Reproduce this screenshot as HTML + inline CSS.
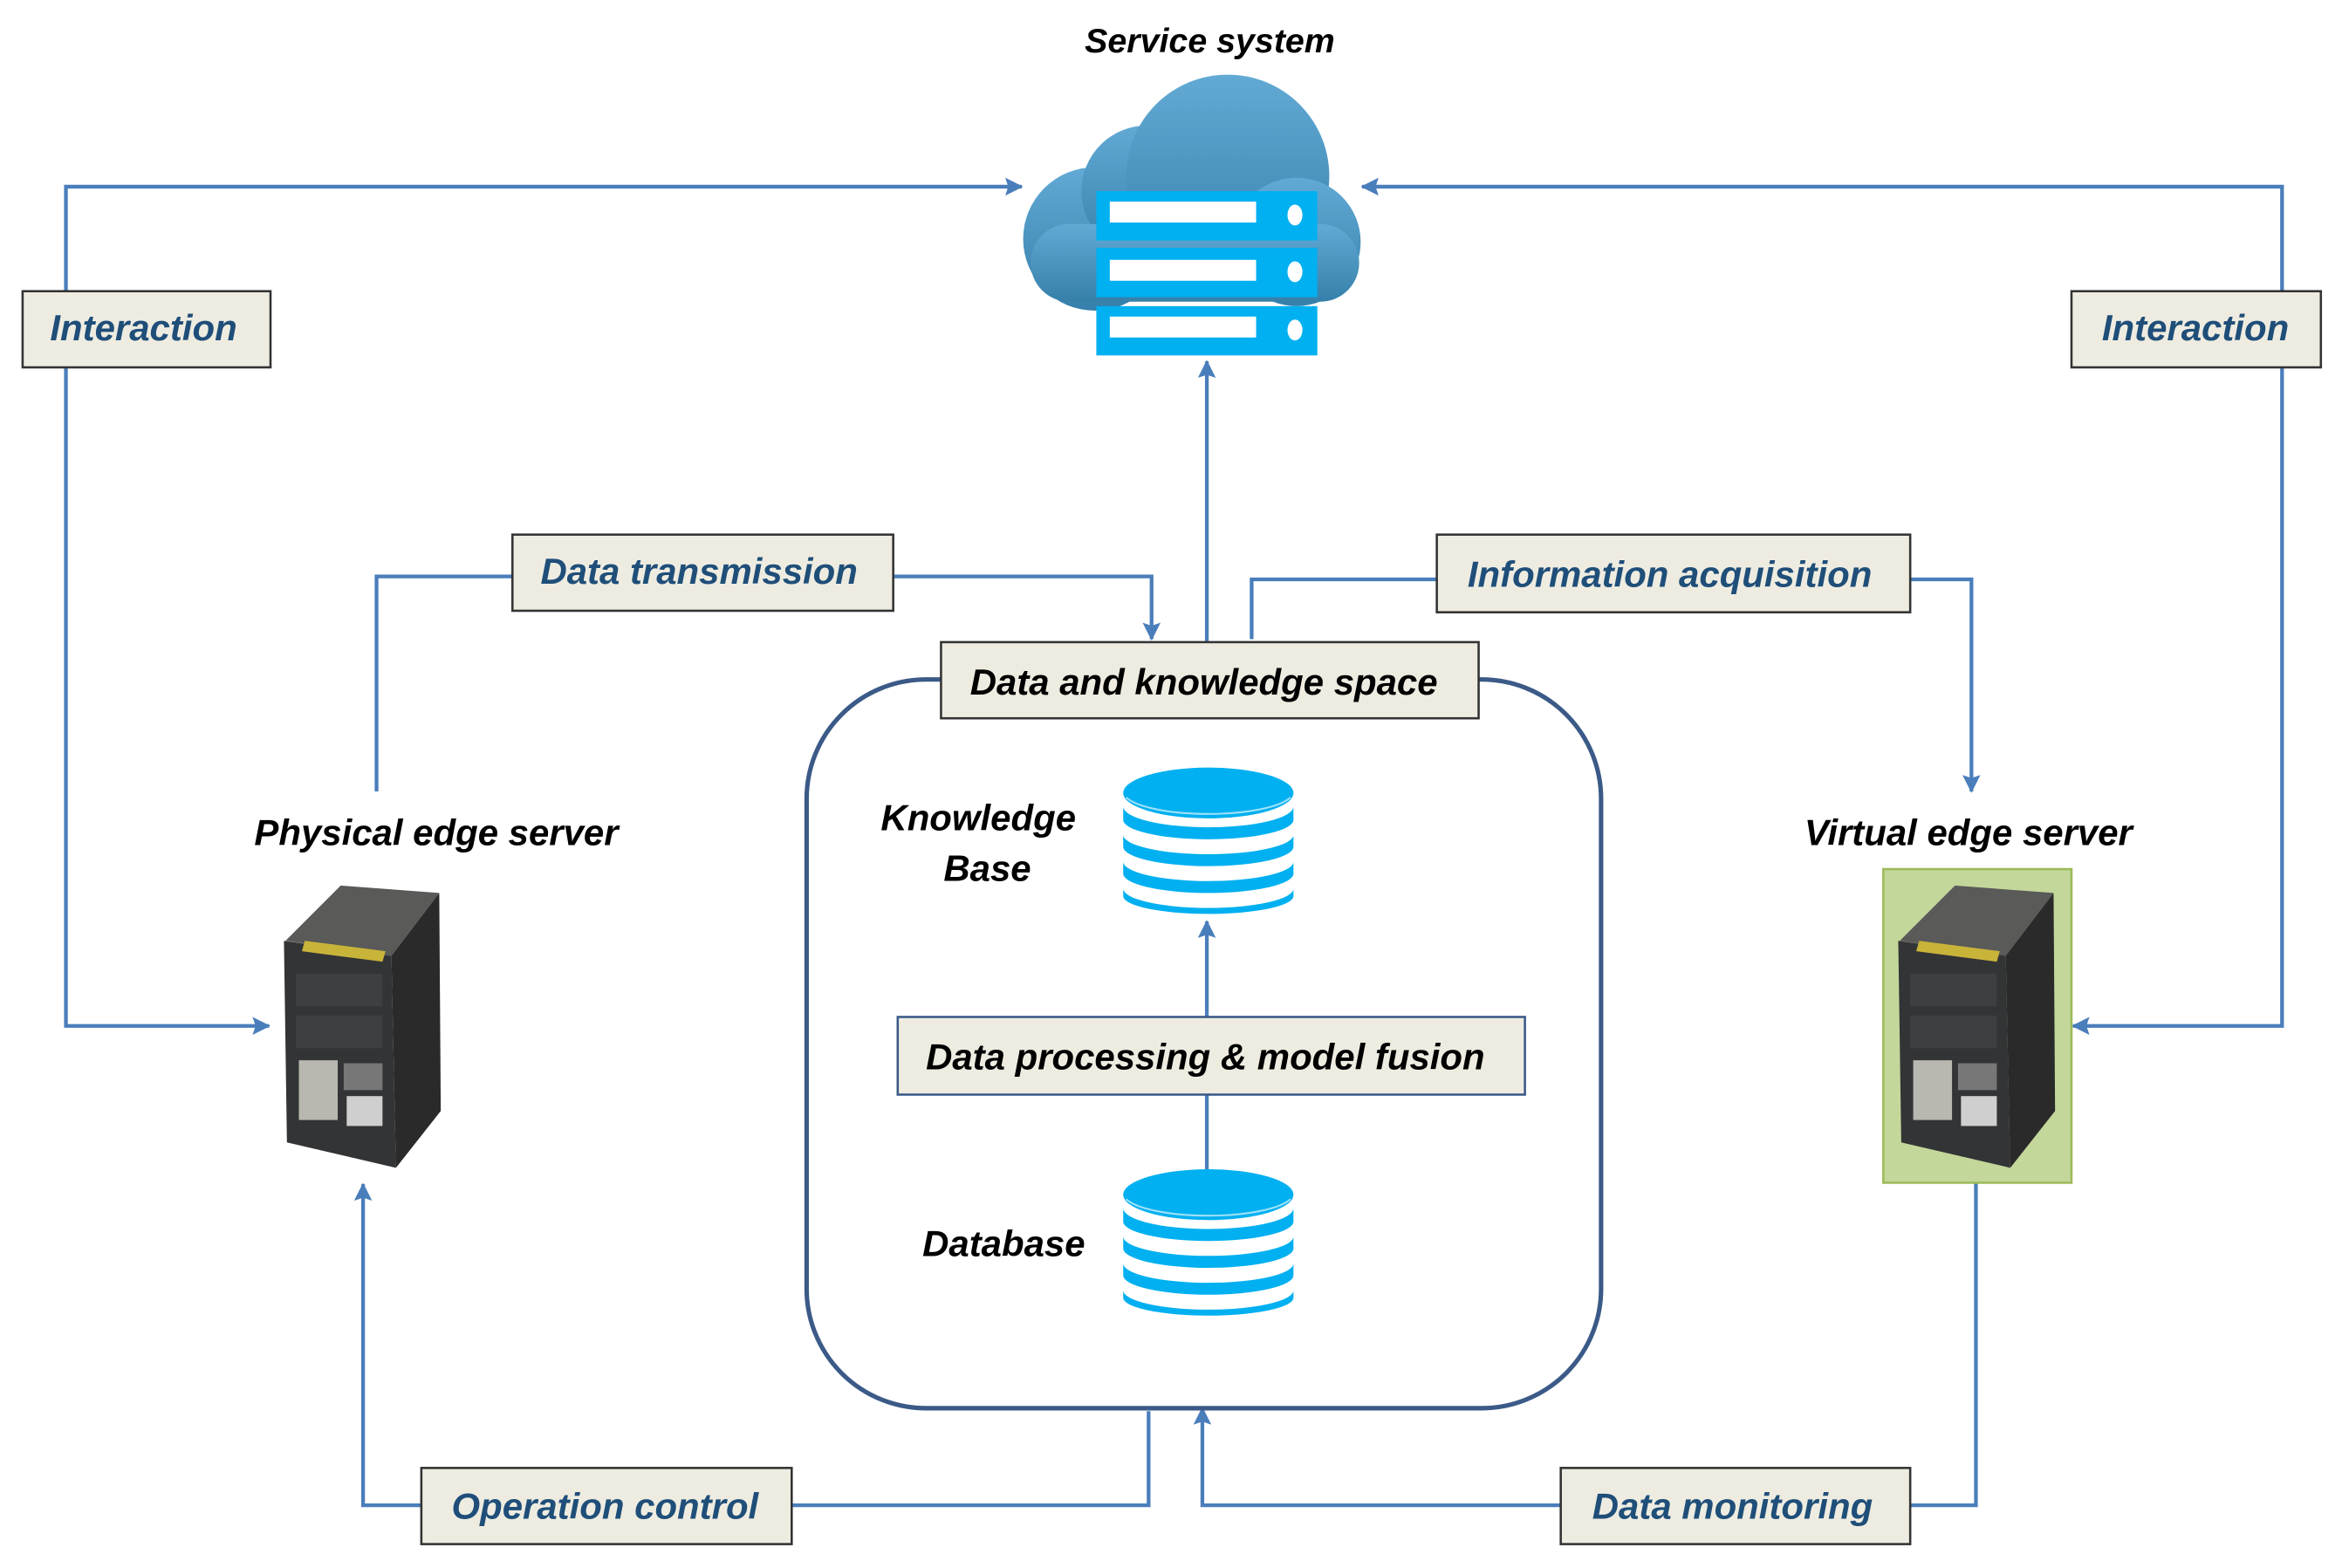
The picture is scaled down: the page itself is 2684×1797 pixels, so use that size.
<!DOCTYPE html>
<html><head><meta charset="utf-8"><style>
html,body{margin:0;padding:0;background:#fff;}
svg{display:block;}
text{font-family:"Liberation Sans",sans-serif;font-weight:bold;font-style:italic;}
</style></head><body>
<svg width="2684" height="1797" viewBox="0 0 1568 1050" xmlns="http://www.w3.org/2000/svg">
<defs>
<marker id="ah" markerWidth="12" markerHeight="12" refX="11" refY="6" orient="auto" markerUnits="userSpaceOnUse">
<path d="M0,0 L12,6 L0,12 L2,6 Z" fill="#4a7ebb"/></marker>
<linearGradient id="cg" x1="0" y1="0" x2="0" y2="1"><stop offset="0" stop-color="#62aad5"/><stop offset="1" stop-color="#3580aa"/></linearGradient>
<g id="srv">
<polygon points="1,38 38,1 104,6 72,48" fill="#5a5a58"/>
<polygon points="72,48 104,6 105,152 75,190" fill="#2a2a2a"/>
<polygon points="0,38 72,48 75,190 2,173" fill="#333436"/>
<polygon points="14,38 68,45 66,52 12,45" fill="#c9b43a"/>
<rect x="8" y="60" width="58" height="22" fill="#3d3f42"/>
<rect x="8" y="88" width="58" height="22" fill="#3d3f42"/>
<rect x="10" y="118" width="26" height="40" fill="#b8b8b0"/>
<rect x="40" y="120" width="26" height="18" fill="#777"/>
<rect x="42" y="142" width="24" height="20" fill="#cfcfcf"/>
</g>
<g id="db">
<path d="M0,28 A57,14 0 0 0 114,28 L114,37 A57,13 0 0 1 0,37 Z" fill="#00b0f0"/>
<path d="M0,47 A57,13 0 0 0 114,47 L114,55 A57,13 0 0 1 0,55 Z" fill="#00b0f0"/>
<path d="M0,65 A57,13 0 0 0 114,65 L114,73 A57,13 0 0 1 0,73 Z" fill="#00b0f0"/>
<path d="M0,83 A57,13 0 0 0 114,83 L114,88 A57,12 0 0 1 0,88 Z" fill="#00b0f0"/>
<ellipse cx="57" cy="19" rx="57" ry="17" fill="#00b0f0"/>
<path d="M2,22 A57,15 0 0 0 112,22" fill="none" stroke="#9ee0fa" stroke-width="1.2"/>
</g>
</defs>

<g fill="none" stroke="#4a7ebb" stroke-width="2.5">
<polyline points="44,195 44,125 684,125" marker-end="url(#ah)"/>
<polyline points="44,246 44,687 180,687" marker-end="url(#ah)"/>
<polyline points="1528,195 1528,125 912,125" marker-end="url(#ah)"/>
<polyline points="1528,246 1528,687 1388,687" marker-end="url(#ah)"/>
<line x1="808" y1="430" x2="808" y2="242" marker-end="url(#ah)"/>
<polyline points="252,530 252,386 343,386"/>
<polyline points="598,386 771,386 771,428" marker-end="url(#ah)"/>
<polyline points="838,428 838,388 962,388"/>
<polyline points="1279,388 1320,388 1320,530" marker-end="url(#ah)"/>
<line x1="808" y1="783" x2="808" y2="733"/>
<line x1="808" y1="681" x2="808" y2="617" marker-end="url(#ah)"/>
<polyline points="282,1008 243,1008 243,793" marker-end="url(#ah)"/>
<polyline points="530,1008 769,1008 769,945"/>
<polyline points="1279,1008 1323,1008 1323,792"/>
<polyline points="1045,1008 805,1008 805,943" marker-end="url(#ah)"/>
</g>

<rect x="540" y="455" width="532" height="488" rx="80" ry="80" fill="none" stroke="#3b5a87" stroke-width="3"/>

<text x="810" y="35" font-size="23" text-anchor="middle" fill="#000">Service system</text>
<g fill="url(#cg)">
<circle cx="733" cy="160" r="48"/>
<circle cx="768" cy="128" r="44"/>
<circle cx="822" cy="118" r="68"/>
<circle cx="868" cy="162" r="43"/>
<rect x="690" y="150" width="220" height="52" rx="26"/>
</g>
<g fill="#00b0f0">
<rect x="734" y="128" width="148" height="33"/>
<rect x="734" y="166" width="148" height="33"/>
<rect x="734" y="205" width="148" height="33"/>
</g>
<g fill="#fff">
<rect x="743" y="135" width="98" height="14"/><ellipse cx="867" cy="144" rx="5" ry="7"/>
<rect x="743" y="174" width="98" height="14"/><ellipse cx="867" cy="182" rx="5" ry="7"/>
<rect x="743" y="212" width="98" height="14"/><ellipse cx="867" cy="221" rx="5" ry="7"/>
</g>

<g fill="#eeece1" stroke="#333" stroke-width="1.5">
<rect x="15" y="195" width="166" height="51"/>
<rect x="1387" y="195" width="167" height="51"/>
<rect x="343" y="358" width="255" height="51"/>
<rect x="962" y="358" width="317" height="52"/>
<rect x="630" y="430" width="360" height="51"/>
<rect x="601" y="681" width="420" height="52" stroke="#3b5a87"/>
<rect x="282" y="983" width="248" height="51"/>
<rect x="1045" y="983" width="234" height="51"/>
</g>
<g font-size="24.5" text-anchor="middle">
<text x="96" y="228" fill="#1f4e79">Interaction</text>
<text x="1470" y="228" fill="#1f4e79">Interaction</text>
<text x="468" y="391" fill="#1f4e79">Data transmission</text>
<text x="1118" y="393" fill="#1f4e79">Information acquisition</text>
<text x="806" y="465" fill="#000">Data and knowledge space</text>
<text x="807" y="716" fill="#000">Data processing &amp; model fusion</text>
<text x="405" y="1017" fill="#1f4e79">Operation control</text>
<text x="1160" y="1017" fill="#1f4e79">Data monitoring</text>
<text x="292" y="566" fill="#000">Physical edge server</text>
<text x="1318" y="566" fill="#000">Virtual edge server</text>
<text x="655" y="556" fill="#000">Knowledge</text>
<text x="661" y="590" fill="#000">Base</text>
<text x="672" y="841" fill="#000">Database</text>
</g>

<use href="#db" x="752" y="512"/>
<use href="#db" x="752" y="781"/>

<use href="#srv" x="190" y="592"/>
<rect x="1261" y="582" width="126" height="210" fill="#c4d79b" stroke="#9bbb59" stroke-width="1.5"/>
<use href="#srv" x="1271" y="592"/>
</svg>
</body></html>
